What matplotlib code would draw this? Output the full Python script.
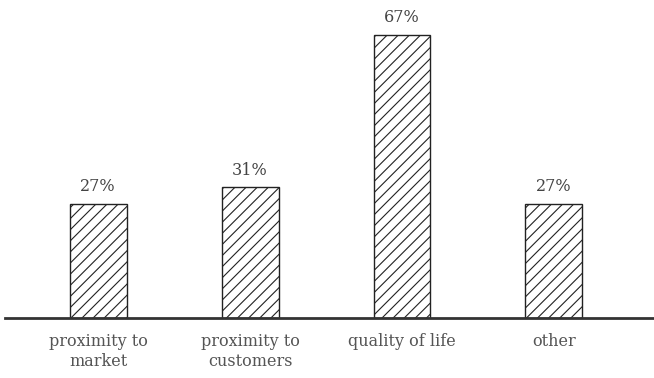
import matplotlib
matplotlib.use("Agg")
import matplotlib.pyplot as plt

categories = ["proximity to\nmarket", "proximity to\ncustomers", "quality of life", "other"]
values = [27, 31, 67, 27]
value_labels = ["27%", "31%", "67%", "27%"]

plt.rcParams["font.family"] = ["DejaVu Serif"]
plt.rcParams["hatch.linewidth"] = 0.8
plt.rcParams["hatch.color"] = "#222222"

fig = plt.figure(figsize=(6.54, 3.78), dpi=100)
ax = fig.add_axes([5 / 654, 60 / 378, 649 / 654, 318 / 378])

x = list(range(len(categories)))
bars = ax.bar(x, values, width=0.375, color="white", edgecolor="#222222",
              linewidth=1.0, hatch="///")

for rect, lab in zip(bars, value_labels):
    ax.annotate(lab, (rect.get_x() + rect.get_width() / 2, rect.get_height()),
                xytext=(0, 6), textcoords="offset points", ha="center", va="bottom",
                fontsize=11.5, color="#444444")

ax.set_xlim(-0.612, 3.658)
ax.set_ylim(0, 75.2)
ax.set_xticks(x)
ax.set_xticklabels(categories, fontsize=11.5, color="#555555", linespacing=1.2)
ax.tick_params(axis="x", length=0, pad=11)
ax.set_yticks([])
for s in ["top", "right", "left"]:
    ax.spines[s].set_visible(False)
ax.spines["bottom"].set_linewidth(2)
ax.spines["bottom"].set_color("#333333")

fig.savefig("out.png", dpi=100)
